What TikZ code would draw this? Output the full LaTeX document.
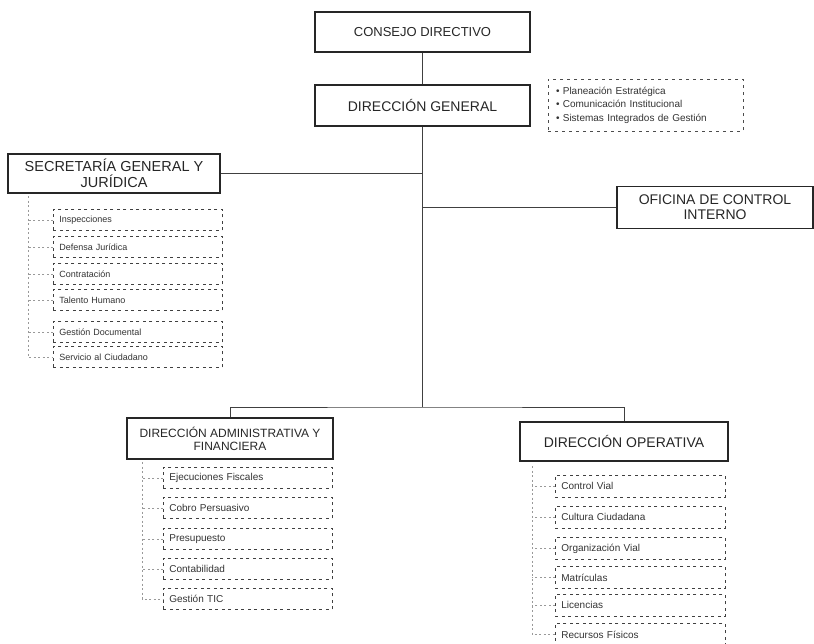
\documentclass[tikz,border=0pt]{standalone}
\usepackage{fontspec}
\setmainfont{Liberation Sans}
\begin{document}
\begin{tikzpicture}[x=1pt,y=-1pt,
  hdr/.style={draw=black!85, line width=1.1pt, align=center, inner sep=0pt, text=black!85},
  subbox/.style={draw=black!75, dashed, dash pattern=on 3pt off 3.5pt, line width=0.8pt,
     anchor=north west, inner xsep=6pt, inner ysep=0pt, align=left, text=black!80,
     minimum height=21pt},
  line/.style={draw=black!75, line width=1pt},
  conn/.style={draw=black!40, dashed, dash pattern=on 2pt off 2.5pt, line width=0.6pt}]
\useasboundingbox (0,0) rectangle (814,643);
\clip (0,0) rectangle (814,643);

% header boxes
\node[hdr, minimum width=215pt, minimum height=40pt, font=\fontsize{13}{15}\selectfont] (cd) at (422.5,32) {CONSEJO DIRECTIVO};
\node[hdr, minimum width=215pt, minimum height=41pt, font=\fontsize{14}{16}\selectfont] (dg) at (422.5,105.5) {DIRECCIÓN GENERAL};
\node[draw=black!70, dashed, dash pattern=on 3pt off 4pt, line width=0.8pt,
      minimum width=195pt, minimum height=52pt, inner xsep=8pt, inner ysep=0pt,
      text width=179pt, align=left, text=black!80, font=\fontsize{10}{13.5}\selectfont] (pe) at (645.5,105)
      {• Planeación Estratégica\\• Comunicación Institucional\\• Sistemas Integrados de Gestión};
\node[hdr, minimum width=212pt, minimum height=39pt, font=\fontsize{14.5}{16}\selectfont] (sg) at (114,173.5) {SECRETARÍA GENERAL Y\\JURÍDICA};
\node[hdr, minimum width=196pt, minimum height=42pt, font=\fontsize{14}{15}\selectfont] (oci) at (715,207.5) {OFICINA DE CONTROL\\INTERNO};
\node[hdr, minimum width=206pt, minimum height=41pt, font=\fontsize{12}{13}\selectfont] (daf) at (230,438.5) {DIRECCIÓN ADMINISTRATIVA Y\\FINANCIERA};
\node[hdr, minimum width=208pt, minimum height=39pt, font=\fontsize{14}{16}\selectfont] (dop) at (624,441.5) {DIRECCIÓN OPERATIVA};

% main connectors
\coordinate (hb) at (422.5,407);
\draw[line] (cd) -- (dg);
\draw[line] (dg.south) -- (hb);
\draw[line] (sg.east) -- (sg.east -| dg.south);
\draw[line] (oci.west) -- (oci.west -| dg.south);
\draw[line] (daf.north) |- (hb) -| (dop.north);

% Secretaria sub-items
\tikzset{sgs/.style={subbox, minimum width=169pt, text width=157pt, font=\fontsize{9}{10}\selectfont}}
\node[sgs] (s1) at (53,209) {Inspecciones};
\node[sgs] (s2) at (53,236) {Defensa Jurídica};
\node[sgs] (s3) at (53,263) {Contratación};
\node[sgs] (s4) at (53,289) {Talento Humano};
\node[sgs] (s5) at (53,321) {Gestión Documental};
\node[sgs] (s6) at (53,346) {Servicio al Ciudadano};
\coordinate (sgl) at (28,196);
\draw[conn] (sgl) |- (s6.west);
\foreach \n in {s1,s2,s3,s4,s5} \draw[conn] (\n.west) -- (\n.west -| sgl);

% DAF sub-items
\tikzset{dafs/.style={subbox, minimum width=169pt, text width=157pt, font=\fontsize{10}{11}\selectfont}}
\node[dafs] (a1) at (163,467) {Ejecuciones Fiscales};
\node[dafs] (a2) at (163,497) {Cobro Persuasivo};
\node[dafs] (a3) at (163,528) {Presupuesto};
\node[dafs] (a4) at (163,558) {Contabilidad};
\node[dafs] (a5) at (163,588) {Gestión TIC};
\coordinate (dafl) at (142,462);
\draw[conn] (dafl) |- (a5.west);
\foreach \n in {a1,a2,a3,a4} \draw[conn] (\n.west) -- (\n.west -| dafl);

% DO sub-items
\tikzset{dos/.style={subbox, minimum width=170pt, text width=158pt, minimum height=22pt, font=\fontsize{10}{11}\selectfont}}
\node[dos] (o1) at (555,475) {Control Vial};
\node[dos] (o2) at (555,506) {Cultura Ciudadana};
\node[dos] (o3) at (555,537) {Organización Vial};
\node[dos] (o4) at (555,566) {Matrículas};
\node[dos] (o5) at (555,594) {Licencias};
\node[dos] (o6) at (555,623) {Recursos Físicos};
\coordinate (dol) at (532,466);
\draw[conn] (dol) |- (o6.west);
\foreach \n in {o1,o2,o3,o4,o5} \draw[conn] (\n.west) -- (\n.west -| dol);
\end{tikzpicture}
\end{document}
